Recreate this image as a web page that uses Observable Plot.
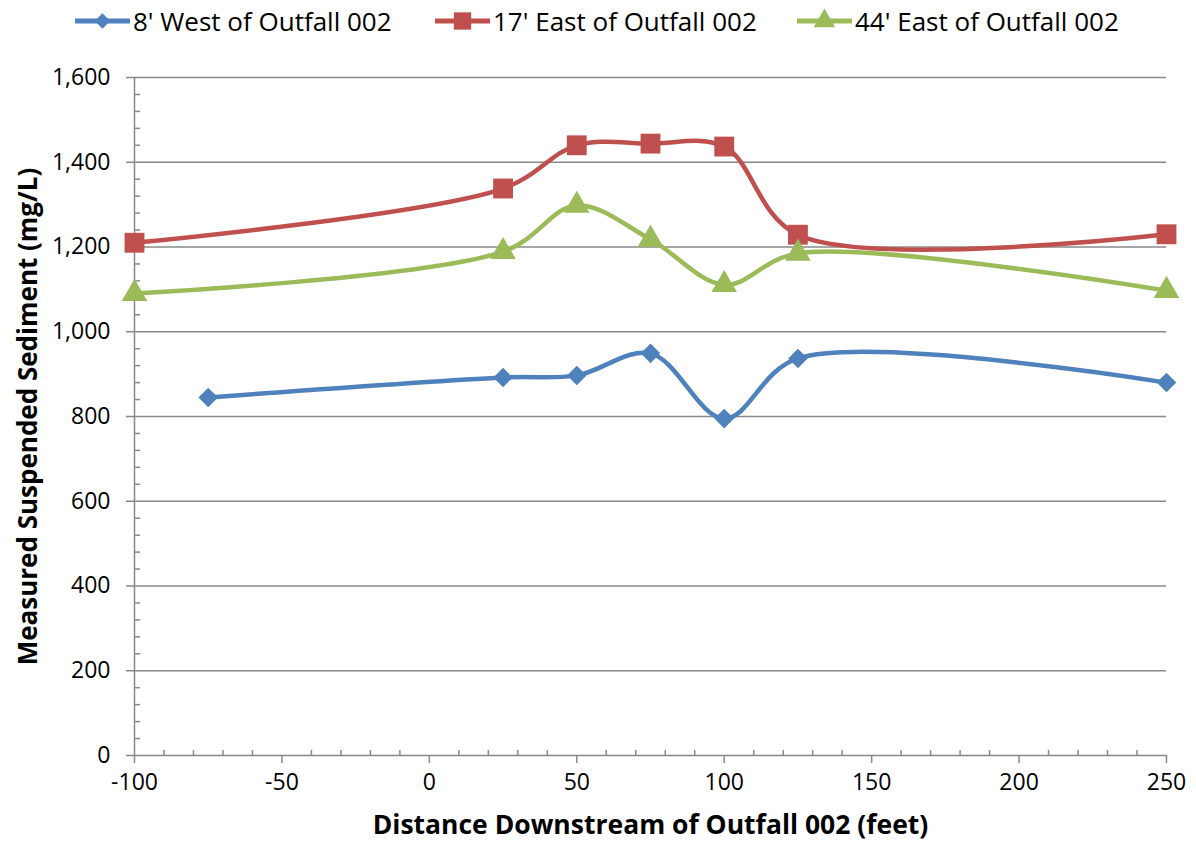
<!DOCTYPE html>
<html><head><meta charset="utf-8">
<script src="https://cdn.jsdelivr.net/npm/d3@7"></script>
<script src="https://cdn.jsdelivr.net/npm/@observablehq/plot@0.6"></script>
<style>
body{margin:0;background:#fff;font-family:"Open Sans",Lato,sans-serif;}
#legend{position:relative;height:45px;width:1196px;}
.item{position:absolute;top:3px;display:flex;align-items:center;font-size:26px;color:#000;white-space:nowrap;}
.item svg{margin-right:3px;}
</style></head><body>
<div id="legend"></div>
<div id="chart"></div>
<script>
// Data
const xWest = [-75, 25, 50, 75, 100, 125, 250];
const west8 = [845, 892, 897, 949, 795, 937, 880];
const xEast = [-100, 25, 50, 75, 100, 125, 250];
const east17 = [1210, 1338, 1440, 1444, 1437, 1229, 1230];
const east44 = [1090, 1189, 1298, 1218, 1111, 1185, 1097];
const seriesNames = ["8' West of Outfall 002", "17' East of Outfall 002", "44' East of Outfall 002"];
const colors = ["#4F81BD", "#C0504D", "#9BBB59"];
const symbols = ["diamond2", "square", "triangle"];
const yTicks = [0, 200, 400, 600, 800, 1000, 1200, 1400, 1600];
const xTicks = [-100, -50, 0, 50, 100, 150, 200, 250];
const yMinor = d3.range(0, 1601, 40).filter(d => d % 200 !== 0);
const xMinor = d3.range(-100, 251, 10).filter(d => d % 50 !== 0);
const xLabel = "Distance Downstream of Outfall 002 (feet)";
const yLabel = "Measured Suspended Sediment (mg/L)";

const series = [
  {name: seriesNames[0], xs: xWest, ys: west8, r: 8.8},
  {name: seriesNames[1], xs: xEast, ys: east17, r: 11.2},
  {name: seriesNames[2], xs: xEast, ys: east44, r: 9.5}
];
const rows = series.flatMap(s => s.xs.map((x, i) => ({series: s.name, x, y: s.ys[i]})));

// Legend
const legendX = [75, 435, 797];
const legend = document.getElementById("legend");
const symMap = {diamond2: d3.symbolDiamond2, square: d3.symbolSquare, triangle: d3.symbolTriangle};
seriesNames.forEach((name, i) => {
  const div = document.createElement("div");
  div.className = "item";
  div.style.left = legendX[i] + "px";
  const sym = d3.symbol(symMap[symbols[i]], i === 0 ? 150 : (i === 1 ? 300 : 200))();
  div.innerHTML = `<svg width="55" height="30"><line x1="0" x2="55" y1="15" y2="15" stroke="${colors[i]}" stroke-width="5"/><path transform="translate(27.5,15)" d="${sym}" fill="${colors[i]}"/></svg><span>${name}</span>`;
  legend.appendChild(div);
});

const axisStyle = {stroke: "#888", strokeWidth: 1.5, label: null, tickFormat: () => ""};
const yFmt = d3.format(",");
const chart = Plot.plot({
  width: 1196,
  height: 807,
  marginLeft: 134,
  marginRight: 30,
  marginTop: 32,
  marginBottom: 97,
  x: {domain: [-100, 250]},
  y: {domain: [0, 1600]},
  color: {domain: seriesNames, range: colors},
  symbol: {domain: seriesNames, range: symbols},
  style: {fontFamily: "'Open Sans', Lato, sans-serif", fontSize: "22px", color: "#000", background: "#fff"},
  marks: [
    Plot.ruleY(yTicks.filter(d => d > 0), {stroke: "#888", strokeWidth: 1.5}),
    Plot.axisY({...axisStyle, ticks: yTicks, tickSize: 8}),
    Plot.axisY({...axisStyle, ticks: yMinor, tickSize: -6}),
    Plot.axisX({...axisStyle, ticks: xTicks, tickSize: 8}),
    Plot.axisX({...axisStyle, ticks: xMinor, tickSize: -5}),
    Plot.ruleX([-100], {stroke: "#888", strokeWidth: 1.5}),
    Plot.ruleY([0], {stroke: "#888", strokeWidth: 1.5}),
    Plot.text(yTicks, {y: d => d, text: d => yFmt(d), frameAnchor: "left", dx: -24, textAnchor: "end", fontSize: 23, fill: "#000"}),
    Plot.text(xTicks, {x: d => d, text: d => String(d), frameAnchor: "bottom", dy: 34, textAnchor: "middle", fontSize: 23, fill: "#000"}),
    Plot.line(rows, {x: "x", y: "y", z: "series", stroke: "series", strokeWidth: 4.5, curve: "catmull-rom"}),
    ...series.map(s => Plot.dot(rows.filter(d => d.series === s.name), {x: "x", y: "y", fill: "series", symbol: "series", r: s.r})),
    Plot.text([yLabel], {text: d => d, frameAnchor: "left", dx: -106, rotate: -90, textAnchor: "middle", fontSize: 26, fontWeight: "bold", fill: "#000"}),
    Plot.text([xLabel], {text: d => d, frameAnchor: "bottom", dy: 78, textAnchor: "middle", fontSize: 26.5, fontWeight: "bold", fill: "#000"})
  ]
});
document.getElementById("chart").appendChild(chart);
</script>
</body></html>
